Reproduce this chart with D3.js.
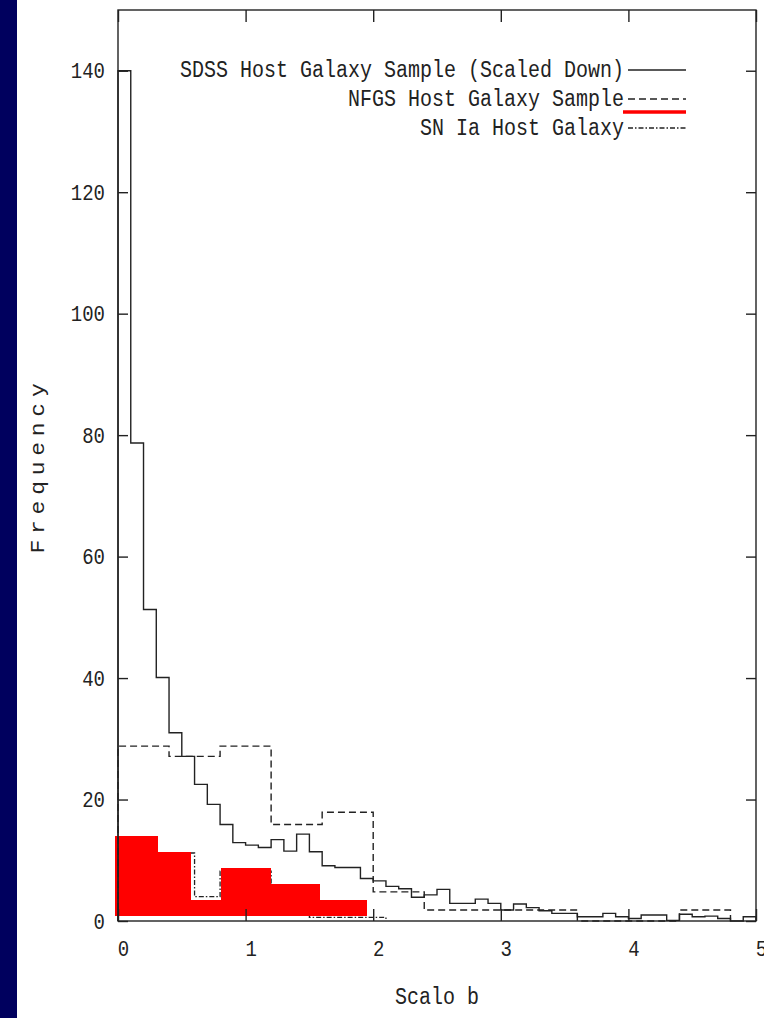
<!DOCTYPE html>
<html>
<head>
<meta charset="utf-8">
<script src="https://cdn.jsdelivr.net/npm/d3@7"></script>
<style>
  body { margin: 0; background: #fff; }
  text { font-family: "Liberation Mono", monospace; fill: #222; }
</style>
</head>
<body>
<div id="chart"></div>
<script>
// SDSS host galaxy sample (scaled down), bins of 0.1 from 0 to 5
var sdssEdges = d3.range(0, 51).map(function (i) { return i / 10; });
var sdssValues = [140, 78.7, 51.3, 40.1, 31.0, 27.1, 22.5, 19.2, 15.9, 12.9,
    12.5, 12.1, 13.4, 11.5, 14.3, 11.4, 9.1, 8.8, 8.8, 7.0,
    6.6, 5.7, 5.3, 3.9, 4.3, 5.2, 2.9, 2.9, 3.6, 2.9,
    1.8, 2.8, 2.2, 1.7, 1.25, 1.25, 0.7, 0.7, 1.25, 0.7,
    0.4, 1.0, 1.0, 0.1, 1.1, 0.7, 0.8, 0.4, 0, 0.7];

// NFGS host galaxy sample, bins of 0.4
var nfgsEdges = [0, 0.4, 0.8, 1.2, 1.6, 2.0, 2.4, 2.8, 3.2, 3.6, 4.0, 4.4, 4.8];
var nfgsValues = [28.8, 27.1, 28.8, 15.9, 17.9, 4.8, 1.8, 1.8, 1.8, 0, 0, 1.8];

// SN Ia host galaxy (dash-dot outline)
var snEdges = [0, 0.3, 0.6, 0.8, 1.2, 1.5, 2.1];
var snValues = [13.5, 11.2, 4.0, 8.2, 5.6, 0.6];

// red highlight blocks over the SN Ia histogram
var redEdges = [-0.02, 0.31, 0.57, 0.81, 1.2, 1.58, 1.95];
var redValues = [14, 11.4, 3.5, 8.7, 6.1, 3.5];
var redBase = 0.8;

var yTicks = [0, 20, 40, 60, 80, 100, 120, 140];
var xTicks = [0, 1, 2, 3, 4, 5];

var legendItems = [
    { label: "SDSS Host Galaxy Sample (Scaled Down)", dash: null },
    { label: "NFGS Host Galaxy Sample", dash: "7,4" },
    { label: "SN Ia Host Galaxy", dash: "5,2,1.5,2" }
];

var width = 764, height = 1018;
var margin = { top: 10, left: 118, right: 8, bottom: 97 };
var stretch = "scale(1,1.15)"; // the original font is a bit taller than Liberation Mono

var svg = d3.select("#chart").append("svg")
    .attr("width", width)
    .attr("height", height);

svg.append("rect").attr("width", width).attr("height", height).attr("fill", "#fff");
// dark blue strip on the left
svg.append("rect").attr("width", 17).attr("height", height).attr("fill", "#00005e");

var x = d3.scaleLinear().domain([0, 5]).range([margin.left, width - margin.right]);
var y = d3.scaleLinear().domain([0, 150]).range([height - margin.bottom, margin.top]);

var lineColor = "#222";

// step path for a histogram given bin edges and values
function stepPoints(edges, values) {
    var pts = [[edges[0], 0]];
    values.forEach(function (v, i) { pts.push([edges[i], v]); });
    pts.push([edges[edges.length - 1], values[values.length - 1]]);
    pts.push([edges[edges.length - 1], 0]);
    return pts;
}
var step = d3.line()
    .x(function (d) { return x(d[0]); })
    .y(function (d) { return y(d[1]); })
    .curve(d3.curveStepAfter);

// SN Ia dash-dot outline (drawn first, red goes over it)
svg.append("path")
    .attr("d", step(stepPoints(snEdges, snValues)))
    .attr("fill", "none")
    .attr("stroke", lineColor)
    .attr("stroke-width", 1.3)
    .attr("stroke-dasharray", "5,2,1.5,2");

// red blocks
svg.selectAll(".red")
    .data(redValues)
    .join("rect")
    .attr("class", "red")
    .attr("x", function (d, i) { return x(redEdges[i]); })
    .attr("width", function (d, i) { return x(redEdges[i + 1]) - x(redEdges[i]); })
    .attr("y", function (d) { return y(d); })
    .attr("height", function (d) { return y(redBase) - y(d); })
    .attr("fill", "#ff0000")
    .attr("shape-rendering", "crispEdges");

// NFGS dashed
svg.append("path")
    .attr("d", step(stepPoints(nfgsEdges, nfgsValues)))
    .attr("fill", "none")
    .attr("stroke", lineColor)
    .attr("stroke-width", 1.4)
    .attr("stroke-dasharray", "7,4");

// SDSS solid
svg.append("path")
    .attr("d", step(stepPoints(sdssEdges, sdssValues)))
    .attr("fill", "none")
    .attr("stroke", lineColor)
    .attr("stroke-width", 1.4);

// axes with inward ticks
var axisLeft = d3.axisLeft(y).tickValues(yTicks).tickSize(-10).tickPadding(13);
var gl = svg.append("g").attr("transform", "translate(" + x(0) + ",0)").call(axisLeft);
var axisRight = d3.axisRight(y).tickValues(yTicks).tickSize(-10).tickFormat("");
var gr = svg.append("g").attr("transform", "translate(" + x(5) + ",0)").call(axisRight);
var axisBottom = d3.axisBottom(x).tickValues(xTicks).tickSize(-12).tickPadding(17).tickFormat(d3.format("d"));
var gb = svg.append("g").attr("transform", "translate(0," + y(0) + ")").call(axisBottom);
var axisTop = d3.axisTop(x).tickValues(xTicks).tickSize(-12).tickFormat("");
var gt = svg.append("g").attr("transform", "translate(0," + y(150) + ")").call(axisTop);

[gl, gr, gb, gt].forEach(function (g) {
    g.select(".domain").remove();
    g.selectAll(".tick line").attr("stroke", lineColor).attr("stroke-width", 1.4);
    g.selectAll(".tick text")
        .style("font-family", "'Liberation Mono', monospace")
        .style("font-size", "19px")
        .attr("fill", "#222")
        .attr("transform", stretch);
});
gb.selectAll(".tick text").attr("dx", 5);

// frame
svg.append("rect")
    .attr("x", x(0)).attr("y", y(150))
    .attr("width", x(5) - x(0)).attr("height", y(0) - y(150))
    .attr("fill", "none")
    .attr("stroke", lineColor)
    .attr("stroke-width", 1.4);

// axis titles
svg.append("text")
    .attr("transform", "translate(" + ((x(0) + x(5)) / 2) + ",1004) " + stretch)
    .attr("text-anchor", "middle")
    .style("font-size", "20px")
    .text("Scalo b");

svg.append("text")
    .attr("transform", "translate(44," + ((y(0) + y(150)) / 2) + ") rotate(-90) scale(1.15,1)")
    .attr("text-anchor", "middle")
    .style("font-size", "20px")
    .style("letter-spacing", "5px")
    .text("Frequency");

// legend
var legend = svg.append("g").attr("transform", "translate(0,70)");
legendItems.forEach(function (item, i) {
    var row = legend.append("g").attr("transform", "translate(0," + (i * 29) + ")");
    row.append("text")
        .attr("transform", "translate(624,7) " + stretch)
        .attr("text-anchor", "end")
        .style("font-size", "20px")
        .text(item.label);
    row.append("line")
        .attr("x1", 628).attr("x2", 686)
        .attr("stroke", lineColor)
        .attr("stroke-width", 1.4)
        .attr("stroke-dasharray", item.dash);
});
// red underline under the NFGS legend entry
legend.append("line")
    .attr("x1", 623).attr("x2", 686)
    .attr("y1", 42).attr("y2", 42)
    .attr("stroke", "#ff0000")
    .attr("stroke-width", 3.5);
</script>
</body>
</html>
